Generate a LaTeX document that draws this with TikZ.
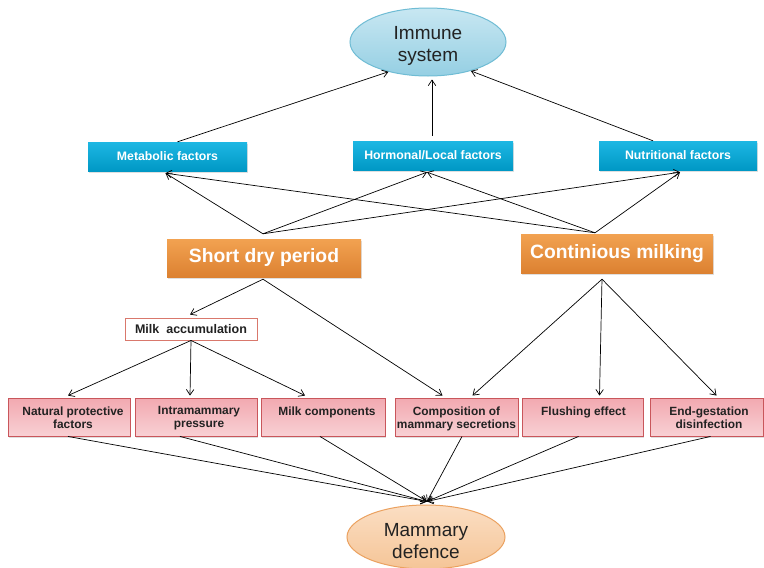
\documentclass[tikz,border=0pt]{standalone}
\usepackage{fontspec}
\setmainfont{Liberation Sans}
\usetikzlibrary{arrows.meta,shapes.geometric,calc,shadows}
\definecolor{cyanT}{HTML}{1DB7E3}
\definecolor{cyanB}{HTML}{0098C5}
\definecolor{orgT}{HTML}{F2A251}
\definecolor{orgB}{HTML}{DC8131}
\definecolor{pinkT}{HTML}{F2A9B0}
\definecolor{pinkB}{HTML}{F8D0D4}
\definecolor{pinkD}{HTML}{C9565B}
\definecolor{maccD}{HTML}{D9786C}
\definecolor{immT}{HTML}{C8E7F2}
\definecolor{immB}{HTML}{95CFE3}
\definecolor{immD}{HTML}{6FBCD4}
\definecolor{mdT}{HTML}{FBDEC3}
\definecolor{mdB}{HTML}{F5C597}
\definecolor{mdD}{HTML}{EBA15F}
\definecolor{txt}{HTML}{222222}
\begin{document}
\begin{tikzpicture}[x=1pt,y=-1pt,
  arr/.style={-{Straight Barb[length=5.5pt,width=7.5pt]}, line width=0.7pt, black},
  shd/.style={drop shadow={shadow xshift=0.8pt, shadow yshift=-1.5pt, opacity=0.25}},
  cbox/.style={rectangle, shd, top color=cyanT, bottom color=cyanB, draw=none, text=white,
    font=\bfseries\fontsize{12.3}{14}\selectfont, inner sep=0pt, minimum height=29pt},
  obox/.style={rectangle, shd, top color=orgT, bottom color=orgB, draw=none, text=white,
    font=\bfseries\fontsize{19.3}{22}\selectfont, inner sep=0pt},
  pbox/.style={rectangle, shd, top color=pinkT, bottom color=pinkB, draw=pinkD, line width=0.9pt,
    inner sep=0pt, minimum height=38pt},
  ptext/.style={anchor=north, inner sep=0pt, align=center, text=txt,
    font=\bfseries\fontsize{11.9}{13}\selectfont},
  ell/.style={ellipse, inner sep=0pt, line width=1pt},
  etext/.style={inner sep=0pt, align=center, text=txt, font=\fontsize{19}{22.5}\selectfont}
]
\fill[white] (0,0) rectangle (764,568);
\useasboundingbox (0,0) rectangle (764,568);

% ellipses
\node[ell, top color=immT, bottom color=immB, draw=immD, minimum width=156pt, minimum height=68pt]
  (imm) at (428,42) {};
\node[etext] (immText) at (428,46) {Immune\\system};
\node[ell, top color=mdT, bottom color=mdB, draw=mdD, minimum width=158pt, minimum height=64pt]
  (md) at (426,537) {};
\node[etext] (mdText) at (426,541) {Mammary\\defence};

% cyan boxes
\node[cbox, minimum width=159pt] (met) at (167.5,156.5) {Metabolic factors};
\node[cbox, minimum width=160pt] (hor) at (433,155.5) {Hormonal/Local factors};
\node[cbox, minimum width=158pt] (nut) at (678,155.5) {Nutritional factors};

% orange boxes
\node[obox, minimum width=194pt, minimum height=38pt] (sd) at (264,258) {Short dry period};
\node[obox, minimum width=192pt, minimum height=39pt] (cm) at (617,253.5) {Continious milking};

% milk accumulation
\node[rectangle, draw=maccD, fill=white, line width=0.9pt, inner sep=0pt,
  minimum width=132pt, minimum height=22pt, text=txt,
  font=\bfseries\fontsize{12.5}{14}\selectfont] (macc) at (191,329) {Milk\ \ accumulation};

% pink boxes
\node[pbox, minimum width=122pt] (nat) at (69,417) {};
\node[pbox, minimum width=122pt] (intra) at (196,417) {};
\node[pbox, minimum width=124pt] (milkc) at (323,417) {};
\node[pbox, minimum width=123pt] (comp) at (456.5,417) {};
\node[pbox, minimum width=121pt] (flu) at (582.5,417) {};
\node[pbox, minimum width=113pt] (endg) at (706.5,417) {};

\node[ptext] (natT) at (73,406.5) {Natural protective\\factors};
\node[ptext] (intraT) at (199,406.5) {Intramammary\\pressure};
\node[ptext] (milkcT) at (327,406.5) {Milk components};
\node[ptext] (compT) at (456.5,406.5) {Composition of\\mammary secretions};
\node[ptext] (fluT) at (583.5,406.5) {Flushing effect};
\node[ptext] (endgT) at (709,406.5) {End-gestation\\disinfection};

% coordinates for connector junctions
\coordinate (sdT) at ($(sd.north)+(-1,-5)$);
\coordinate (cmT) at ($(cm.north)+(-22,-1)$);
\coordinate (sdB) at ($(sd.south)+(-1,2)$);
\coordinate (cmB) at ($(cm.south)+(-15,6)$);
\coordinate (mdTop) at ($(md.north)+(1,-3)$);

% to immune system
\draw[arr] ($(met.north)+(10,0)$) -- (imm.217);
\draw[arr] ($(hor.north)+(-1,-5)$) -- ($(imm.south)+(4,3)$);
\draw[arr] ($(nut.north)+(-25,0)$) -- (imm.326);

% to factor boxes
\draw[arr] (sdT) -- ($(met.south)+(-2,2)$);
\draw[arr] (sdT) -- ($(hor.south)+(-6,2)$);
\draw[arr] (sdT) -- ($(nut.south)+(2,2)$);
\draw[arr] (cmT) -- ($(met.south)+(-2,2)$);
\draw[arr] (cmT) -- ($(hor.south)+(-6,2)$);
\draw[arr] (cmT) -- ($(nut.south)+(2,2)$);

% from short dry period
\draw[arr] (sdB) -- ($(macc.north)+(-1,-3)$);
\draw[arr] (sdB) -- ($(comp.north)+(-14,-2)$);

% from continious milking
\draw[arr] (cmB) -- ($(comp.north)+(16,-2)$);
\draw[arr] (cmB) -- ($(flu.north)+(17,-2)$);
\draw[arr] (cmB) -- ($(endg.north)+(10,-2)$);

% from milk accumulation
\draw[arr] (macc.south) -- ($(nat.north)+(-1,-2)$);
\draw[arr] (macc.south) -- ($(intra.north)+(-6,-2)$);
\draw[arr] (macc.south) -- ($(milkc.north)+(-18,-2)$);

% to mammary defence
\draw[arr] ($(nat.south)+(-1,0)$) -- (mdTop);
\draw[arr] ($(intra.south)+(-16,0)$) -- (mdTop);
\draw[arr] ($(milkc.south)+(-3,0)$) -- (mdTop);
\draw[arr] ($(comp.south)+(5.5,0)$) -- (mdTop);
\draw[arr] ($(flu.south)+(-4,0)$) -- (mdTop);
\draw[arr] ($(endg.south)+(4,0)$) -- (mdTop);
\end{tikzpicture}
\end{document}
